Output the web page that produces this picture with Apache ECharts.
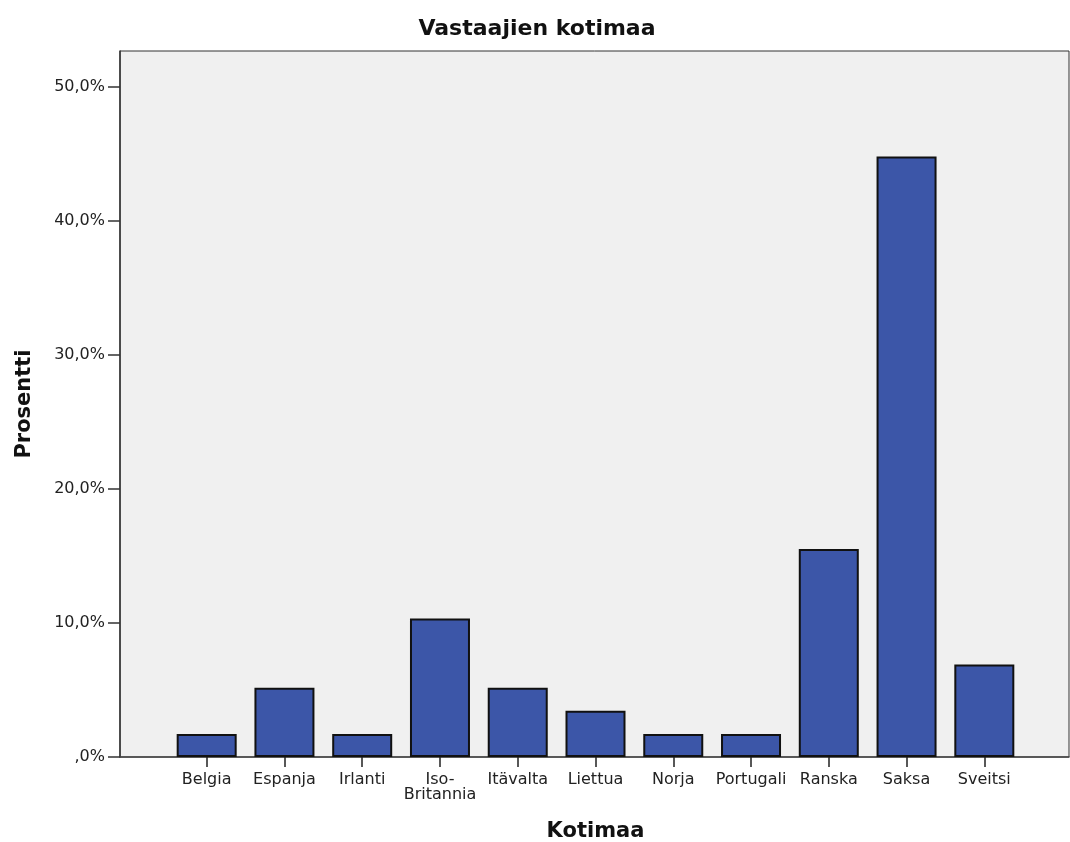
<!DOCTYPE html>
<html>
<head>
<meta charset="utf-8">
<script src="https://cdn.jsdelivr.net/npm/echarts@6/dist/echarts.min.js"></script>
<style>
html,body{margin:0;padding:0;background:#fff;}
#chart{width:1070px;height:842px;}
</style>
</head>
<body>
<div id="chart"></div>
<script>
// Data
const categories = ['Belgia','Espanja','Irlanti','Iso-\nBritannia','Itävalta','Liettua','Norja','Portugali','Ranska','Saksa','Sveitsi'];
const percentValues = [1.72, 5.17, 1.72, 10.34, 5.17, 3.45, 1.72, 1.72, 15.52, 44.83, 6.90];
const yTickValues = [0, 10, 20, 30, 40, 50];
const titleText = 'Vastaajien kotimaa';
const xName = 'Kotimaa';
const yName = 'Prosentti';

const Y_MAX = 52.7;
const FONT = '"DejaVu Sans", "Liberation Sans", Arial, sans-serif';

function fmtPct(v){
  if (v === 0) return ',0%';
  return v.toFixed(1).replace('.', ',') + '%';
}

const chart = echarts.init(document.getElementById('chart'), null, {renderer:'canvas'});
chart.setOption({
  animation: false,
  backgroundColor: '#ffffff',
  title: {
    text: titleText,
    left: 532,
    textAlign: 'center',
    top: 13,
    textStyle: {fontFamily: FONT, fontSize: 22, fontWeight: 'bold', color: '#111'}
  },
  grid: [
    {left: 120, right: 1, top: 51, bottom: 85, show: true, backgroundColor: '#f0f0f0', borderColor: '#333', borderWidth: 1, containLabel: false, outerBoundsMode: 'none'},
    {left: 167.8, right: 46.8, top: 51, bottom: 85, containLabel: false, outerBoundsMode: 'none'}
  ],
  xAxis: [
    {gridIndex: 0, type: 'value', min: 0, max: 1,
     axisLine: {show: true, onZero: false, lineStyle: {color: '#444', width: 1.5}},
     axisTick: {show: false}, axisLabel: {show: false}, splitLine: {show: false}},
    {gridIndex: 1, type: 'category', data: categories,
     boundaryGap: true,
     axisLine: {show: false},
     axisTick: {show: true, alignWithLabel: true, length: 10, lineStyle: {color: '#222', width: 1.5}},
     axisLabel: {show: true, interval: 0, margin: 15, fontFamily: FONT, fontSize: 16, color: '#222', lineHeight: 15},
     name: xName, nameLocation: 'middle', nameGap: 64,
     nameTextStyle: {fontFamily: FONT, fontSize: 21, fontWeight: 'bold', color: '#111'}}
  ],
  yAxis: [
    {gridIndex: 0, type: 'value', min: 0, max: Y_MAX, interval: 10,
     axisLine: {show: true, lineStyle: {color: '#333', width: 1.5}},
     axisTick: {show: true, inside: false, length: 12, customValues: yTickValues, lineStyle: {color: '#333', width: 1.5}},
     axisLabel: {show: true, inside: false, customValues: yTickValues, margin: 15, formatter: fmtPct, fontFamily: FONT, fontSize: 16, color: '#222'},
     splitLine: {show: false},
     name: yName, nameLocation: 'middle', nameGap: 85, nameRotate: 90,
     nameTextStyle: {fontFamily: FONT, fontSize: 21, fontWeight: 'bold', color: '#111'}},
    {gridIndex: 1, type: 'value', min: 0, max: Y_MAX, show: false, splitLine: {show: false}}
  ],
  series: [{
    type: 'bar',
    xAxisIndex: 1, yAxisIndex: 1,
    data: percentValues,
    barWidth: 60,
    itemStyle: {color: '#3c56a8', borderColor: '#111', borderWidth: 2}
  }]
});
</script>
</body>
</html>
